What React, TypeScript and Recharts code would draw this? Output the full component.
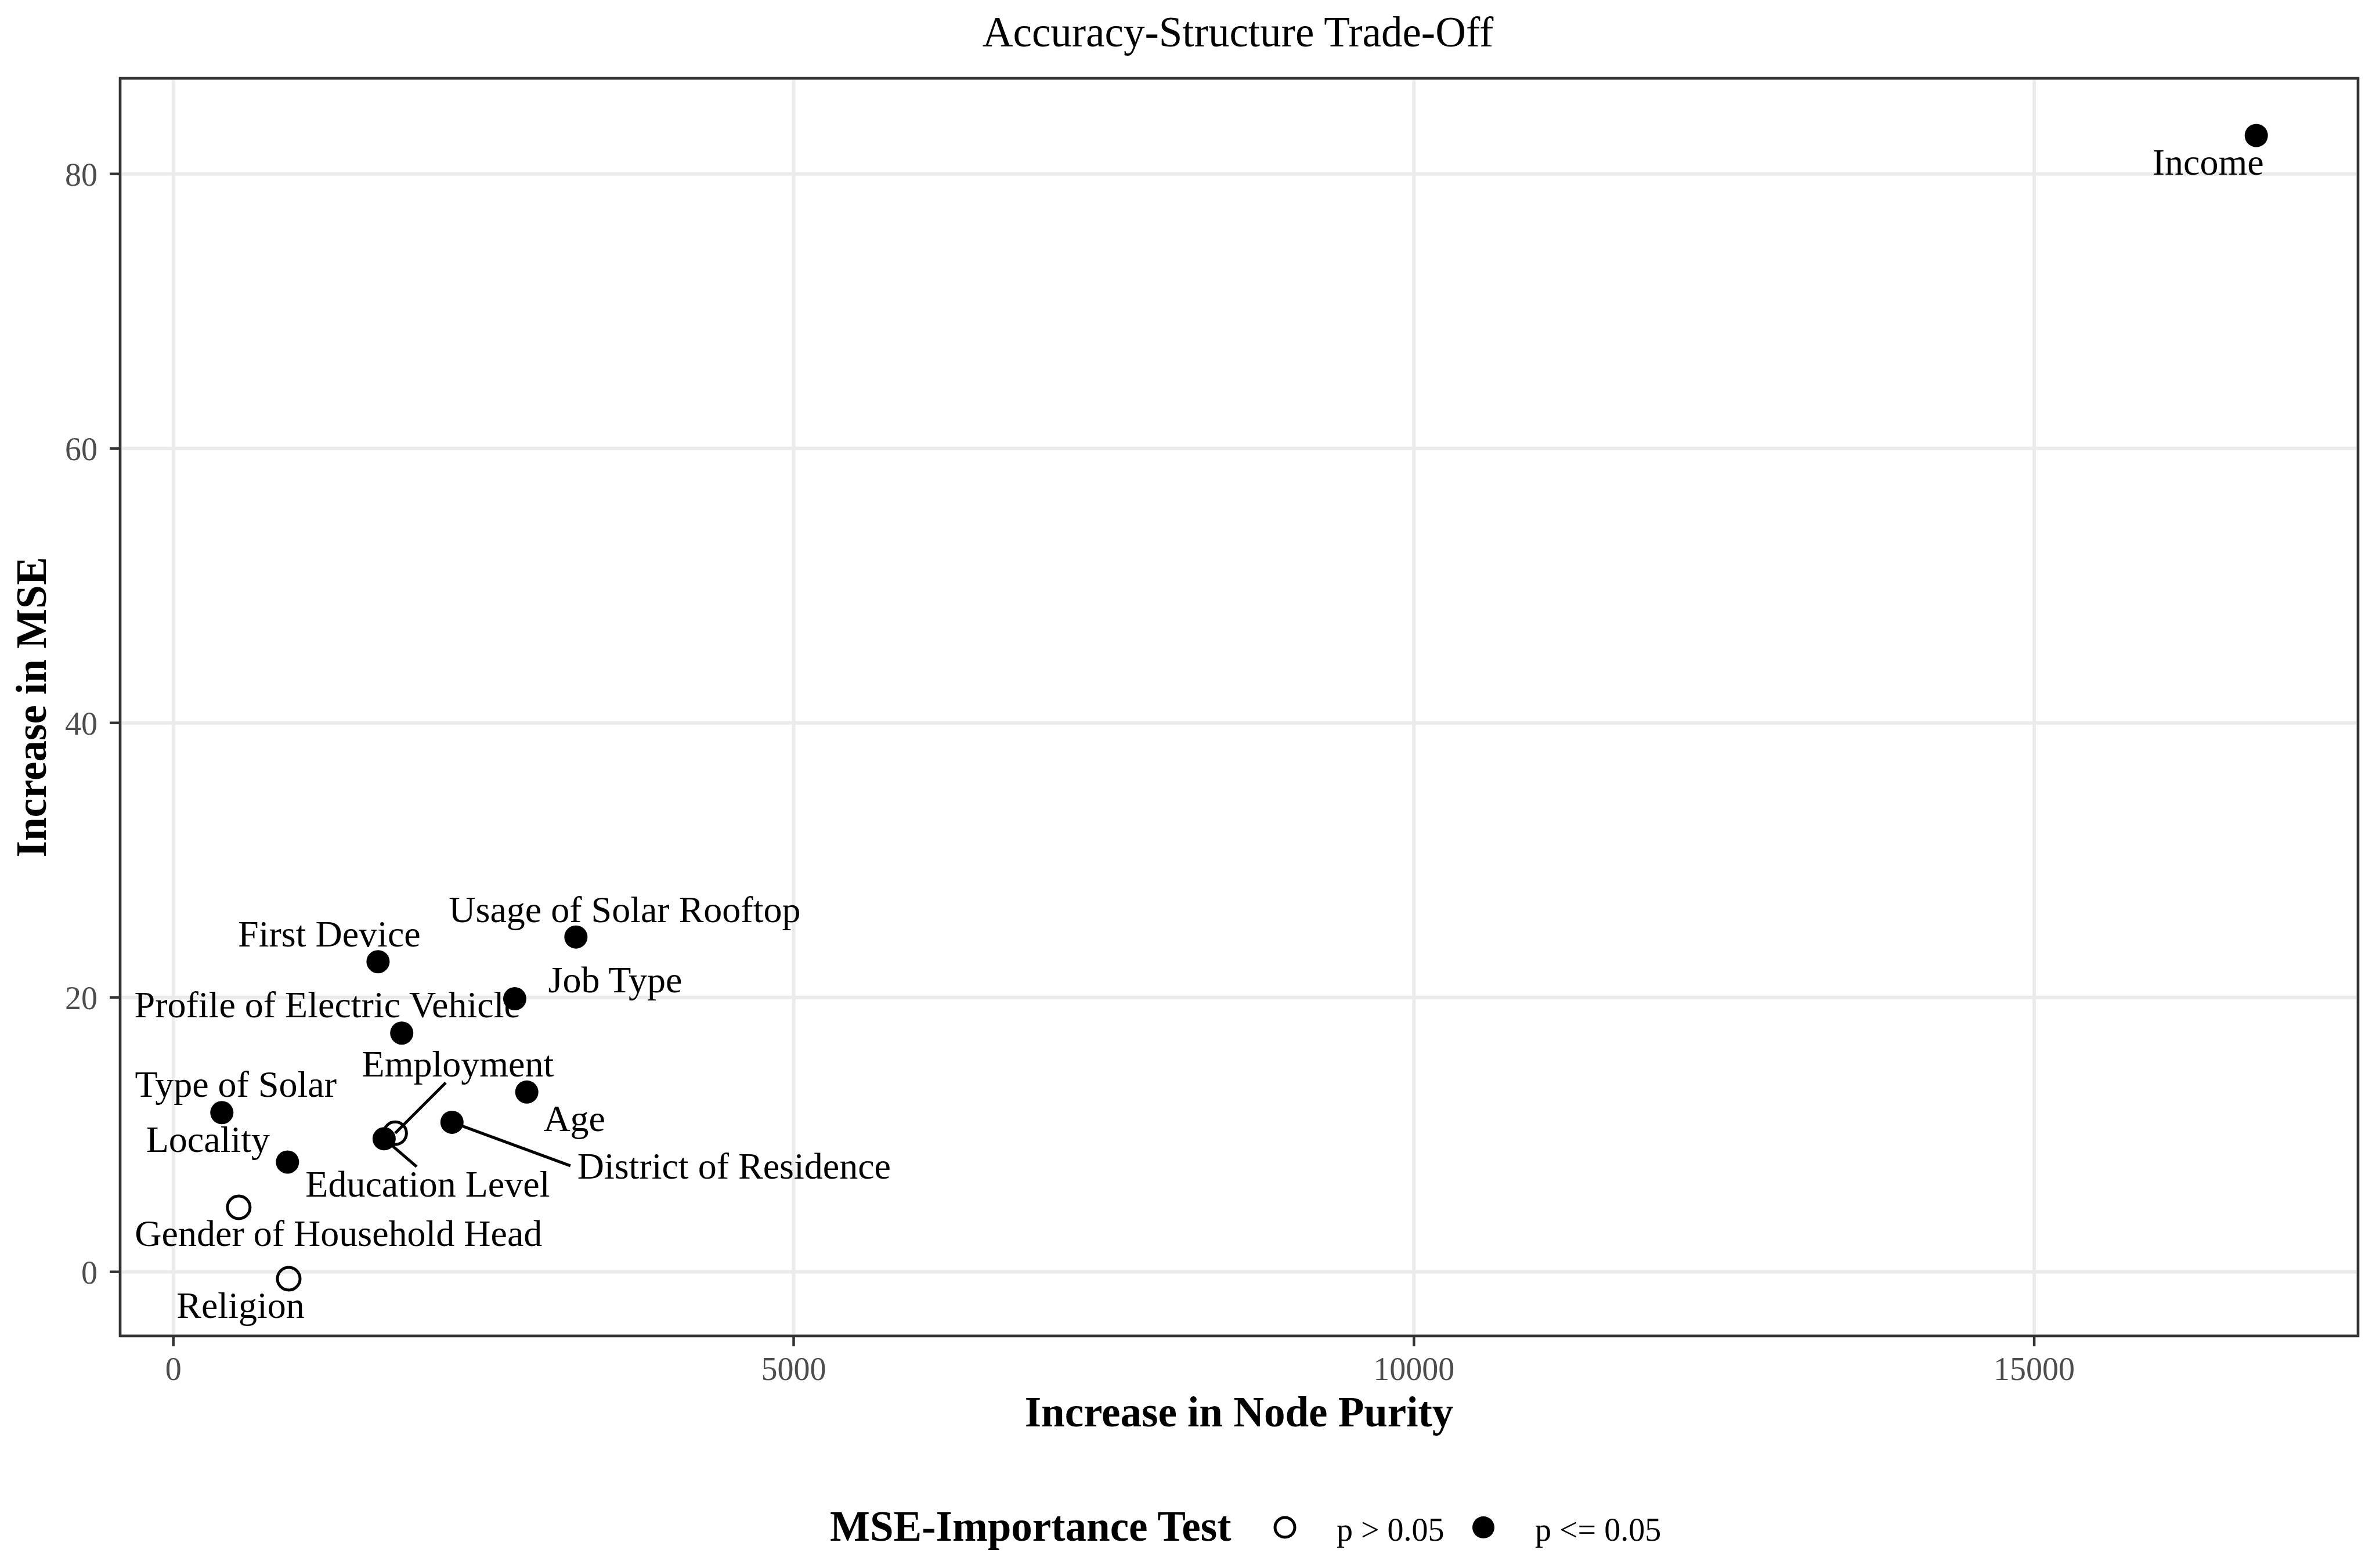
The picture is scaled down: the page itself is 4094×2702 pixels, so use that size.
import React from "react";
import { ScatterChart, Scatter, XAxis, YAxis, CartesianGrid, ReferenceArea, Legend, Label } from "recharts";

const FONT = '"Liberation Serif", "Times New Roman", serif';

// variables and their importance measures
const variables = [
  "Income",
  "Usage of Solar Rooftop",
  "First Device",
  "Job Type",
  "Profile of Electric Vehicle",
  "Age",
  "Type of Solar",
  "District of Residence",
  "Employment",
  "Education Level",
  "Locality",
  "Gender of Household Head",
  "Religion",
];
const nodePurity = [16790, 3245, 1650, 2752, 1841, 2849, 391, 2246, 1788, 1699, 920, 527, 930];
const mseIncrease = [82.8, 24.4, 22.6, 19.9, 17.4, 13.1, 11.6, 10.9, 10.1, 9.7, 8.0, 4.7, -0.5];
const significant = [true, true, true, true, true, true, true, true, false, true, true, false, false];

const seriesNames = ["p > 0.05", "p <= 0.05"];
const xTicks = [0, 5000, 10000, 15000];
const yTicks = [0, 20, 40, 60, 80];

// repelled label placement: offsets (px) of the text centre/baseline from the point,
// plus an optional leader segment end
const labelPlacement: Record<string, { dx: number; dy: number; seg?: [number, number] }> = {
  Income: { dx: -83, dy: 67 },
  "Usage of Solar Rooftop": { dx: 84, dy: -26 },
  "First Device": { dx: -84, dy: -26 },
  "Job Type": { dx: 173, dy: -11 },
  "Profile of Electric Vehicle": { dx: -128, dy: -27 },
  Age: { dx: 82, dy: 67 },
  "Type of Solar": { dx: 24, dy: -27 },
  "District of Residence": { dx: 486, dy: 97, seg: [204, 75] },
  Employment: { dx: 108, dy: -98, seg: [87, -87] },
  "Education Level": { dx: 75, dy: 100, seg: [56, 48] },
  Locality: { dx: -137, dy: -17 },
  "Gender of Household Head": { dx: 172, dy: 66 },
  Religion: { dx: -83, dy: 67 },
};

const points = variables.map((name, i) => ({
  name,
  x: nodePurity[i],
  y: mseIncrease[i],
  sig: significant[i],
}));
const openPoints = points.filter((p) => !p.sig);
const filledPoints = points.filter((p) => p.sig);

// ggplot-style 5% expansion of the data range
function expand(values: number[]): [number, number] {
  const lo = Math.min(...values);
  const hi = Math.max(...values);
  const pad = (hi - lo) * 0.05;
  return [lo - pad, hi + pad];
}
const xDomain = expand(nodePurity);
const yDomain = expand(mseIncrease);

const OpenDot = (props: any) => (
  <circle cx={props.cx} cy={props.cy} r={19.5} fill="none" stroke="#000" strokeWidth={5} />
);
const FilledDot = (props: any) => <circle cx={props.cx} cy={props.cy} r={20} fill="#000" />;

const PointLabel = (props: any) => {
  const { cx, cy, payload } = props;
  const p = labelPlacement[payload.name];
  if (!p) return null;
  return (
    <g>
      {p.seg && (
        <line x1={cx} y1={cy} x2={cx + p.seg[0]} y2={cy + p.seg[1]} stroke="#000" strokeWidth={5} />
      )}
      <text x={cx + p.dx} y={cy + p.dy} textAnchor="middle" fontSize={64} fontFamily={FONT} fill="#000">
        {payload.name}
      </text>
    </g>
  );
};

const renderLegend = (props: any) => {
  const entries = (props.payload || [])
    .filter((e: any) => seriesNames.includes(e.value))
    .sort((a: any, b: any) => seriesNames.indexOf(a.value) - seriesNames.indexOf(b.value));
  return (
    <svg width={1600} height={120} style={{ display: "block" }}>
      <text x={30} y={75} fontSize={73} fontWeight="bold" fontFamily={FONT} fill="#000">
        MSE-Importance Test
      </text>
      {entries.map((e: any, i: number) => {
        const open = e.value === seriesNames[0];
        const cx = 814 + i * 342;
        return (
          <g key={e.value}>
            {open ? (
              <circle cx={cx} cy={52} r={17} fill="none" stroke="#000" strokeWidth={5} />
            ) : (
              <circle cx={cx} cy={52} r={19} fill="#000" />
            )}
            <text x={cx + 89} y={75} fontSize={56} fontFamily={FONT} fill="#000">
              {e.value}
            </text>
          </g>
        );
      })}
    </svg>
  );
};

const tickStyle = { fill: "#4D4D4D", fontSize: 56, fontFamily: FONT };

export default function App() {
  return (
    <div style={{ position: "absolute", left: 0, top: 0, width: 4094, height: 2702, background: "#fff" }}>
      <ScatterChart
        width={4094}
        height={2702}
        margin={{ top: 135, right: 31, bottom: 300, left: 57 }}
        style={{ fontFamily: FONT }}
      >
        <CartesianGrid stroke="#EBEBEB" strokeWidth={6} />
        <XAxis
          type="number"
          dataKey="x"
          domain={xDomain}
          allowDataOverflow
          ticks={xTicks}
          interval={0}
          height={100}
          axisLine={false}
          tickLine={{ stroke: "#333333", strokeWidth: 4.5 }}
          tickSize={18}
          tickMargin={18}
          tick={tickStyle}
        >
          <Label
            content={(p: any) => {
              const vb = p.viewBox;
              return (
                <text
                  x={vb.x + vb.width / 2}
                  y={vb.y + 156}
                  textAnchor="middle"
                  fontSize={73}
                  fontWeight="bold"
                  fontFamily={FONT}
                  fill="#000"
                >
                  Increase in Node Purity
                </text>
              );
            }}
          />
        </XAxis>
        <YAxis
          type="number"
          dataKey="y"
          domain={yDomain}
          allowDataOverflow
          ticks={yTicks}
          interval={0}
          width={150}
          axisLine={false}
          tickLine={{ stroke: "#333333", strokeWidth: 4.5 }}
          tickSize={18}
          tickMargin={21}
          tick={tickStyle}
        >
          <Label
            content={(p: any) => {
              const vb = p.viewBox;
              const x = vb.x + 22;
              const y = vb.y + vb.height / 2;
              return (
                <text
                  x={x}
                  y={y}
                  transform={`rotate(-90, ${x}, ${y})`}
                  textAnchor="middle"
                  fontSize={73}
                  fontWeight="bold"
                  fontFamily={FONT}
                  fill="#000"
                >
                  Increase in MSE
                </text>
              );
            }}
          />
        </YAxis>
        <ReferenceArea
          x1={xDomain[0]}
          x2={xDomain[1]}
          y1={yDomain[0]}
          y2={yDomain[1]}
          fill="none"
          fillOpacity={0}
          stroke="#333333"
          strokeWidth={4.5}
        />
        <Scatter name={seriesNames[0]} data={openPoints} shape={OpenDot} fill="#000" isAnimationActive={false} />
        <Scatter name={seriesNames[1]} data={filledPoints} shape={FilledDot} fill="#000" isAnimationActive={false} />
        <Scatter data={points} shape={PointLabel} legendType="none" isAnimationActive={false} />
        <Legend
          layout="horizontal"
          verticalAlign="middle"
          align="center"
          wrapperStyle={{ left: 1400, top: 2580, width: 1600, height: 120 }}
          content={renderLegend}
        />
        <text x={2133} y={80} textAnchor="middle" fontSize={73} fontFamily={FONT} fill="#000">
          Accuracy-Structure Trade-Off
        </text>
      </ScatterChart>
    </div>
  );
}
